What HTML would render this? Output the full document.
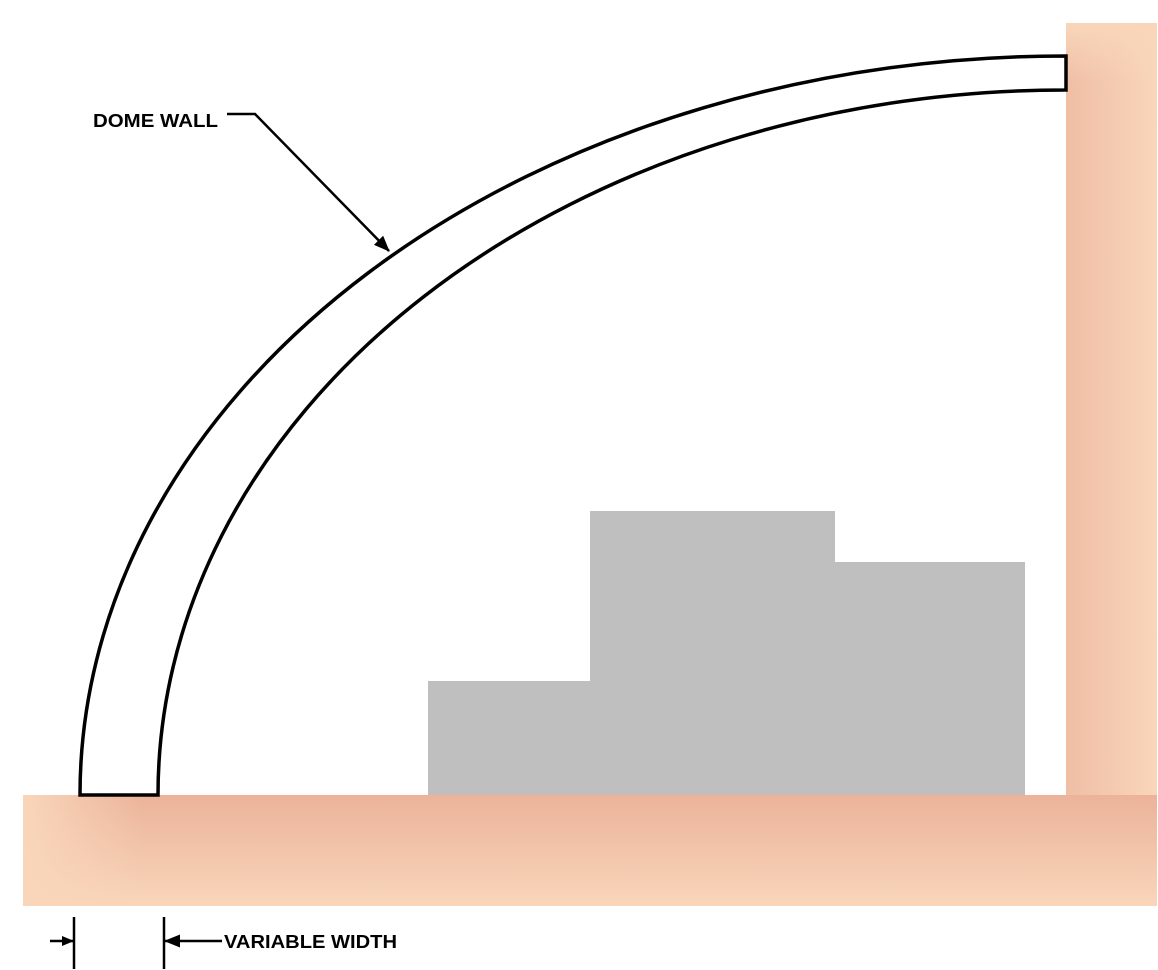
<!DOCTYPE html>
<html><head><meta charset="utf-8"><style>
html,body{margin:0;padding:0;background:#fff;}
svg{display:block;}
</style></head><body>
<svg width="1158" height="970" viewBox="0 0 1158 970" xmlns="http://www.w3.org/2000/svg">
<defs>
<linearGradient id="fl" x1="0" y1="0" x2="0" y2="1">
<stop offset="0" stop-color="#ebb39a"/><stop offset="1" stop-color="#f9d6ba"/>
</linearGradient>
<linearGradient id="fll" x1="0" y1="0" x2="1" y2="0">
<stop offset="0" stop-color="#f9d6ba" stop-opacity="1"/><stop offset="1" stop-color="#f9d6ba" stop-opacity="0"/>
</linearGradient>
<linearGradient id="wl" x1="0" y1="0" x2="1" y2="0">
<stop offset="0" stop-color="#efbea5"/><stop offset="1" stop-color="#f9d6ba"/>
</linearGradient>
<linearGradient id="wt" x1="0" y1="0" x2="0" y2="1">
<stop offset="0" stop-color="#f9d6ba" stop-opacity="1"/><stop offset="1" stop-color="#f9d6ba" stop-opacity="0"/>
</linearGradient>
<marker id="ah" markerWidth="12" markerHeight="10" refX="11" refY="5" orient="auto" markerUnits="userSpaceOnUse">
<path d="M0,0 L12,5 L0,10 Z" fill="#000"/>
</marker>
<marker id="ah2" markerWidth="16" markerHeight="13" refX="15" refY="6.5" orient="auto" markerUnits="userSpaceOnUse">
<path d="M0,0 L16,6.5 L0,13 Z" fill="#000"/>
</marker>
</defs>
<rect x="1066" y="23" width="91" height="883" fill="url(#wl)"/>
<rect x="1066" y="23" width="91" height="60" fill="url(#wt)"/>
<rect x="23" y="795" width="1134" height="111" fill="url(#fl)"/>
<rect x="23" y="795" width="120" height="111" fill="url(#fll)"/>
<rect x="428" y="681" width="163" height="114" fill="#bfbfbf"/>
<rect x="590" y="511" width="245" height="284" fill="#bfbfbf"/>
<rect x="834" y="562" width="191" height="233" fill="#bfbfbf"/>
<path d="M80,795 A986,739 0 0 1 1066,56 L1066,90 A908,705 0 0 0 158,795 Z" fill="#fff" stroke="#000" stroke-width="3.5" stroke-linejoin="miter"/>
<polyline points="227,114 255,114 389,251" fill="none" stroke="#000" stroke-width="2.5" marker-end="url(#ah2)"/>
<text x="93" y="127" font-family="Liberation Sans, sans-serif" font-weight="bold" font-size="18" fill="#000" textLength="125" lengthAdjust="spacingAndGlyphs">DOME WALL</text>
<line x1="74" y1="917" x2="74" y2="969" stroke="#000" stroke-width="2.5"/>
<line x1="164" y1="917" x2="164" y2="969" stroke="#000" stroke-width="2.5"/>
<line x1="50" y1="941" x2="73" y2="941" stroke="#000" stroke-width="2.5" marker-end="url(#ah)"/>
<line x1="222" y1="941" x2="165" y2="941" stroke="#000" stroke-width="2.5" marker-end="url(#ah2)"/>
<text x="224" y="948" font-family="Liberation Sans, sans-serif" font-weight="bold" font-size="18" fill="#000" textLength="173" lengthAdjust="spacingAndGlyphs">VARIABLE WIDTH</text>
</svg>
</body></html>
